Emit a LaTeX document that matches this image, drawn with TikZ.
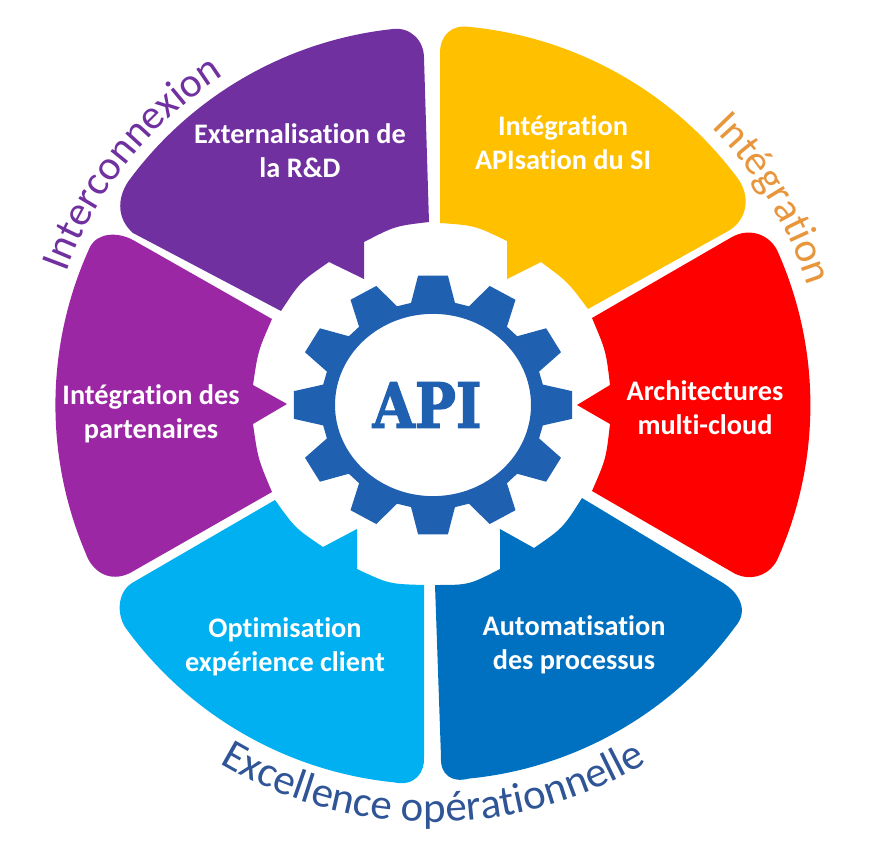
\documentclass[tikz,border=0pt]{standalone}
\usepackage{fontspec}
\setmainfont[Ligatures=NoCommon]{Carlito}
\newfontfamily\apifont[FakeBold=2.2]{DejaVu Serif}
\usetikzlibrary{decorations.text}
\definecolor{cInterco}{HTML}{7030A0}
\definecolor{cYellow}{HTML}{FFC000}
\definecolor{cRed}{HTML}{FF0000}
\definecolor{cMagenta}{HTML}{9C27A5}
\definecolor{cCyan}{HTML}{00B0F0}
\definecolor{cBlue}{HTML}{0070C0}
\definecolor{cGear}{HTML}{1F60B1}
\definecolor{cOrange}{HTML}{E8963C}
\definecolor{cNavy}{HTML}{2F5597}
\tikzset{
  petal/.style={fill=#1,draw=none},
  petallabel/.style={text=white,align=center,inner sep=0pt,
    font=\bfseries\fontsize{28.3}{34}\selectfont},
  apilabel/.style={text=cGear,inner sep=0pt,xscale=.88,
    font=\apifont\bfseries\fontsize{62}{62}\selectfont},
}
\newcommand{\curved}[6]{% colour, size, radius, start, end, text
  \path[decorate,decoration={text along path,text align=center,
     text color=#1,text={|\fontsize{#2}{#2}\selectfont|#6}}]
     (#4:#3) arc[start angle=#4,end angle=#5,radius=#3];}
\begin{document}
\begin{tikzpicture}[x=1pt,y=-1pt]
\useasboundingbox (0,0) rectangle (870,866);
\fill[white] (0,0) rectangle (870,866);
% top-left petal
\path[petal=cInterco] (429,222) -- (424,58) .. controls (424,40) and (410,27) .. (393,29)
  arc[start angle=-96.1,end angle=-143.8,radius=378]
  .. controls (116,200) and (118,220) .. (133,233) -- (281,311)
  .. controls (300,282) .. (329,262) -- (364,279) -- (364,242)
  .. controls (395,226) .. cycle;
% top-right petal
\path[petal=cYellow] (440,223) -- (440,53) .. controls (440,35) and (452,24) .. (470,27)
  arc[start angle=-84.4,end angle=-36.5,radius=379.8]
  .. controls (750,196) and (748,218) .. (730,230) -- (588,309)
  .. controls (568,282) .. (541,262) -- (507,279) -- (507,241)
  .. controls (475,225.5) .. cycle;
% right petal
\path[petal=cRed] (592,318) -- (732,237) .. controls (748,228) and (768,233) .. (777,250)
  arc[start angle=-24.3,end angle=24.3,radius=377]
  .. controls (768,577) and (748,582) .. (732,572) -- (592,491)
  .. controls (606,459) .. (610,424) -- (577,405) -- (610,385)
  .. controls (606,351) .. cycle;
% left petal
\path[petal=cMagenta] (272,319) -- (133,240) .. controls (118,232) and (98,232) .. (90,247)
  arc[start angle=-155.3,end angle=-203,radius=378]
  .. controls (92,572) and (110,583) .. (130,573) -- (272,492)
  .. controls (258,459) .. (253,424) -- (287,404) -- (253,385)
  .. controls (258,351) .. cycle;
% bottom-left petal
\path[petal=cCyan] (275,500) -- (132,583) .. controls (120,590) and (115,610) .. (125,627)
  arc[start angle=144.2,end angle=95.8,radius=379]
  .. controls (415,787) and (425,772) .. (424,757) -- (424,585)
  .. controls (389,584) .. (357,569) -- (357,529) -- (323,547)
  .. controls (295,528) .. cycle;
% bottom-right petal
\path[petal=cBlue] (435,585) .. controls (469,585) .. (500,569) -- (500,529) -- (534,548)
  .. controls (563,528) .. (582,498) -- (723,583)
  .. controls (738,592) and (750,610) .. (735,627)
  arc[start angle=36.3,end angle=84.4,radius=376]
  .. controls (452,783) and (440,775) .. (441,757) -- cycle;
% gear
\begin{scope}[shift={(433,405)},yscale=.93]
  \fill[cGear,even odd rule]
    (-11.3:112)
    \foreach \a in {0,30,...,330}{
      -- (\a-6.1:140) -- (\a+6.1:140) -- (\a+11.3:112) -- (\a+18.7:112)
    } -- cycle
    (0,0) circle[radius=98];
\end{scope}
\node[apilabel] (api) at (427,405) {API};
% petal labels
\node[petallabel] (rd)    at (300,151) {Externalisation de\\la R\&D};
\node[petallabel] (si)    at (563,143) {Intégration\\APIsation du SI};
\node[petallabel] (cloud) at (705,408) {Architectures\\multi-cloud};
\node[petallabel] (part)  at (151,414) {Intégration des\\partenaires};
\node[petallabel] (cli)   at (285,647) {Optimisation\\expérience client};
\node[petallabel] (proc)  at (574,645) {Automatisation\\des processus};
% curved titles
\begin{scope}[shift={(433,405)},y=1pt]
  \curved{cInterco}{41.5}{390}{160}{122.5}{Interconnexion}
  \curved{cOrange}{41.5}{393}{45}{17.5}{Intégration}
  \curved{cNavy}{43}{417}{239.5}{300.5}{Excellence opérationnelle}
\end{scope}
\end{tikzpicture}
\end{document}
